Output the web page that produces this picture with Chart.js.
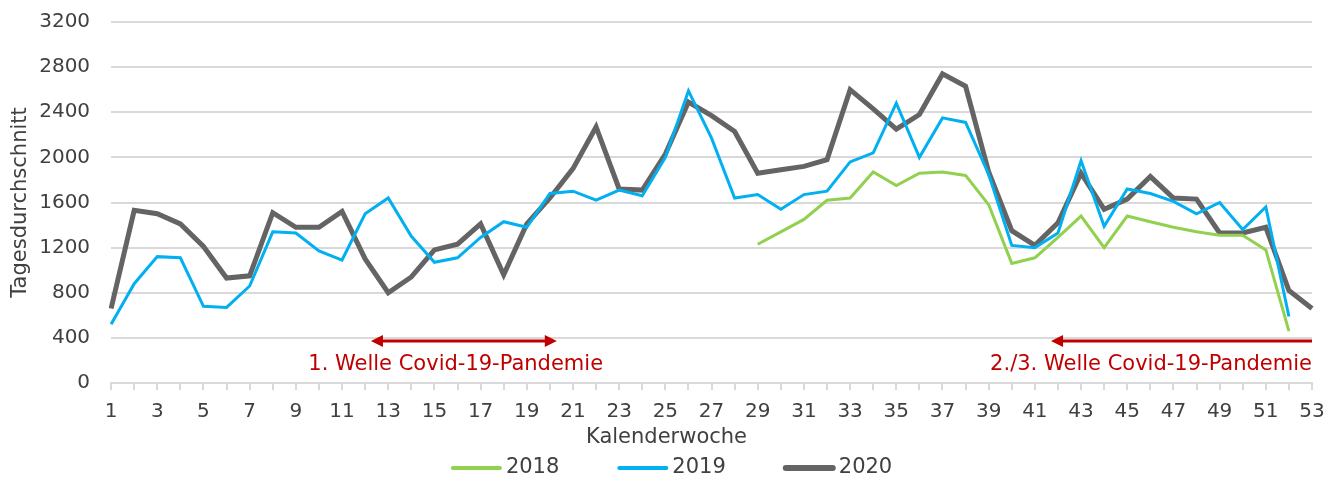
<!DOCTYPE html>
<html>
<head>
<meta charset="utf-8">
<script src="https://cdn.jsdelivr.net/npm/chart.js@4.4.1/dist/chart.umd.min.js"></script>
<style>
  html, body { margin: 0; padding: 0; background: #fff; }
  #wrap { width: 1339px; height: 477px; }
</style>
</head>
<body>
<div id="wrap"><canvas id="chart"></canvas></div>
<script>
// Kalenderwochen 1..53
const weeks = [];
for (let w = 1; w <= 53; w++) weeks.push(w);

// 2018: nur ab KW 29 vorhanden
const data2018 = [
  null, null, null, null, null, null, null, null, null, null,
  null, null, null, null, null, null, null, null, null, null,
  null, null, null, null, null, null, null, null,
  1230, 1340, 1450, 1620, 1640, 1870, 1750, 1860, 1870, 1840,
  1580, 1060, 1110, 1290, 1480, 1200, 1480, 1430, 1380, 1340,
  1310, 1310, 1180, 460
];

const data2019 = [
  520, 880, 1120, 1110, 680, 670, 860, 1340, 1330, 1170,
  1090, 1500, 1640, 1300, 1070, 1110, 1290, 1430, 1380, 1680,
  1700, 1620, 1710, 1660, 2000, 2590, 2170, 1640, 1670, 1540,
  1670, 1700, 1960, 2040, 2480, 2000, 2350, 2310, 1850, 1220,
  1200, 1330, 1970, 1390, 1720, 1680, 1610, 1500, 1600, 1360,
  1560, 590
];

const data2020 = [
  660, 1530, 1500, 1410, 1210, 930, 950, 1510, 1380, 1380,
  1520, 1100, 800, 940, 1180, 1230, 1410, 960, 1410, 1640,
  1900, 2270, 1720, 1710, 2030, 2490, 2370, 2230, 1860, 1890,
  1920, 1980, 2600, 2430, 2250, 2380, 2740, 2630, 1870, 1350,
  1220, 1420, 1860, 1540, 1630, 1830, 1640, 1630, 1330, 1330,
  1380, 820, 660
];

// 🔹 Pfeile mit Beschriftung (in KW / Tagesdurchschnitt)
const waveLabels = ["1. Welle Covid-19-Pandemie", "2./3. Welle Covid-19-Pandemie"];
const waveFrom = [12.25, 41.7];
const waveTo = [20.3, 53];
const waveHeads = [["left", "right"], ["left"]];
const waveLineY = [373, 373];
const waveTextWeek = [15.92, 53];
const waveTextY = [160, 165];

const xTitle = "Kalenderwoche";
const xTitleWeek = 25.05;

const RED = "#c00000";
const TEXT = "#404040";
const GRID = "#d9d9d9";
const FONT = "'DejaVu Sans', 'Open Sans', sans-serif";
const FS_TICK = 20;
const FS = 21;

// Pixel für eine (auch gebrochene) Kalenderwoche
function weekPx(xs, w) {
  const p0 = xs.getPixelForValue(0);
  const p1 = xs.getPixelForValue(1);
  return p0 + (w - 1) * (p1 - p0);
}

// 🔹 Pfeile, Achsentitel und Legende zeichnen
const overlayPlugin = {
  id: "overlay",
  afterDraw(chart) {
    const { ctx, scales, chartArea } = chart;
    const xs = scales.x, ys = scales.y;
    ctx.save();

    // Pfeile
    ctx.strokeStyle = RED;
    ctx.fillStyle = RED;
    ctx.lineWidth = 3;
    waveLabels.forEach((label, i) => {
      const x1 = weekPx(xs, waveFrom[i]);
      const x2 = weekPx(xs, waveTo[i]);
      const y = ys.getPixelForValue(waveLineY[i]);
      const head = 12;
      const heads = waveHeads[i];
      const lx = heads.includes("left") ? x1 + head - 1 : x1;
      const rx = heads.includes("right") ? x2 - head + 1 : x2;
      ctx.beginPath();
      ctx.moveTo(lx, y);
      ctx.lineTo(rx, y);
      ctx.stroke();
      if (heads.includes("left")) {
        ctx.beginPath();
        ctx.moveTo(x1, y);
        ctx.lineTo(x1 + head, y - 6);
        ctx.lineTo(x1 + head, y + 6);
        ctx.closePath();
        ctx.fill();
      }
      if (heads.includes("right")) {
        ctx.beginPath();
        ctx.moveTo(x2, y);
        ctx.lineTo(x2 - head, y - 6);
        ctx.lineTo(x2 - head, y + 6);
        ctx.closePath();
        ctx.fill();
      }
      ctx.font = FS + "px " + FONT;
      ctx.textBaseline = "middle";
      ctx.textAlign = i === 0 ? "center" : "right";
      ctx.fillText(label, weekPx(xs, waveTextWeek[i]), ys.getPixelForValue(waveTextY[i]));
    });

    // x-Achsentitel
    ctx.fillStyle = TEXT;
    ctx.font = FS + "px " + FONT;
    ctx.textAlign = "center";
    ctx.textBaseline = "middle";
    ctx.fillText(xTitle, weekPx(xs, xTitleWeek), chartArea.bottom + 55);

    // Legende
    const items = chart.data.datasets;
    const lineLen = 51, gapText = 4, gapItem = 58;
    const widths = items.map(d => lineLen + gapText + ctx.measureText(d.label).width);
    const total = widths.reduce((a, b) => a + b, 0) + gapItem * (items.length - 1);
    let x = (chartArea.left + chartArea.right) / 2 - 40 - total / 2;
    const ly = chartArea.bottom + 85;
    items.forEach((d, i) => {
      ctx.strokeStyle = d.borderColor;
      ctx.lineWidth = d.borderWidth + 1;
      ctx.lineCap = "round";
      ctx.beginPath();
      ctx.moveTo(x + 2, ly);
      ctx.lineTo(x + lineLen - 2, ly);
      ctx.stroke();
      ctx.fillStyle = TEXT;
      ctx.textAlign = "left";
      ctx.fillText(d.label, x + lineLen + gapText, ly);
      x += widths[i] + gapItem;
    });

    ctx.restore();
  }
};

const ctx = document.getElementById("chart").getContext("2d");
new Chart(ctx, {
  type: "line",
  data: {
    labels: weeks,
    datasets: [
      {
        label: "2018",
        data: data2018,
        borderColor: "#92d050",
        borderWidth: 3,
        pointRadius: 0,
        tension: 0
      },
      {
        label: "2019",
        data: data2019,
        borderColor: "#00b0f0",
        borderWidth: 3,
        pointRadius: 0,
        tension: 0
      },
      {
        label: "2020",
        data: data2020,
        borderColor: "#646464",
        borderWidth: 5,
        pointRadius: 0,
        tension: 0
      }
    ]
  },
  options: {
    responsive: true,
    maintainAspectRatio: false,
    animation: false,
    layout: { padding: { top: 22, right: 27, left: 6, bottom: 43 } },
    plugins: {
      legend: { display: false },
      tooltip: { enabled: false }
    },
    scales: {
      x: {
        offset: false,
        grid: { drawOnChartArea: false, drawTicks: true, tickLength: 7, color: GRID, lineWidth: 2 },
        border: { color: GRID, width: 2 },
        ticks: {
          autoSkip: false,
          maxRotation: 0,
          color: TEXT,
          font: { family: FONT, size: FS_TICK },
          padding: 10,
          callback: (v, i) => (i % 2 === 0 ? String(weeks[i]) : "")
        }
      },
      y: {
        min: 0,
        max: 3200,
        grid: { color: GRID, lineWidth: 2, drawTicks: false },
        border: { display: false },
        // oberes Polster der Achse nicht vergrößern (sonst rutscht 3200 nach unten)
        afterFit: (scale) => { scale.paddingTop = 0; },
        ticks: {
          stepSize: 400,
          color: TEXT,
          font: { family: FONT, size: FS_TICK },
          padding: 21,
          callback: (v) => String(v)
        },
        title: {
          display: true,
          text: "Tagesdurchschnitt",
          color: TEXT,
          font: { family: FONT, size: FS },
          padding: { top: 2, bottom: -15 }
        }
      }
    }
  },
  plugins: [overlayPlugin]
});
</script>
</body>
</html>
